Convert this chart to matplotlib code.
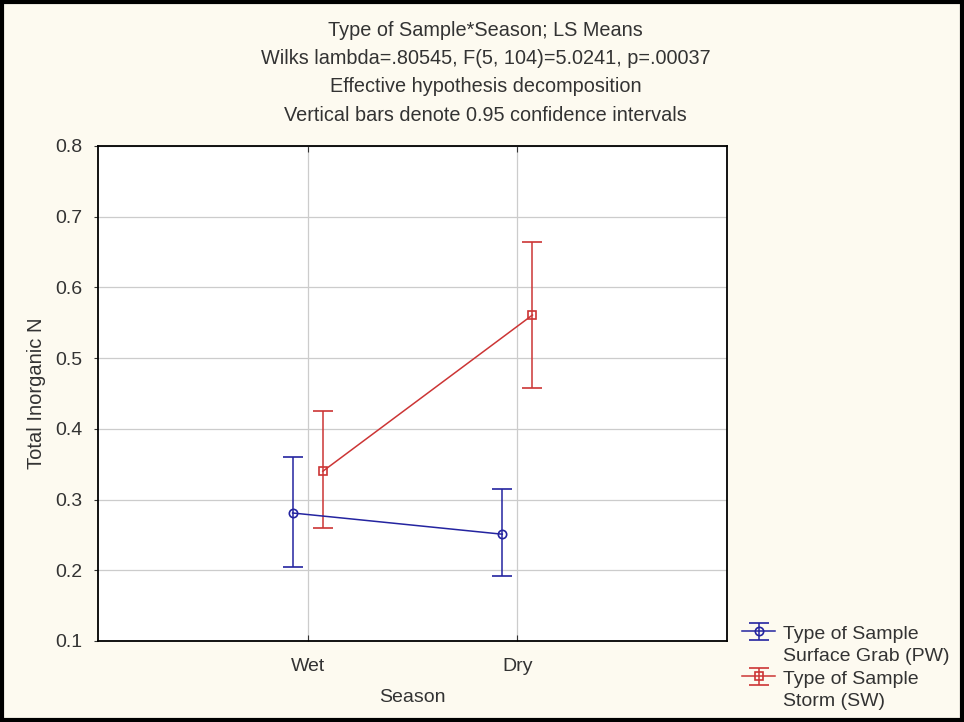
import numpy as np
import matplotlib.pyplot as plt
from matplotlib.patches import Rectangle
from matplotlib.legend_handler import HandlerErrorbar

plt.rcParams['font.family'] = ['Liberation Sans', 'DejaVu Sans']

seasons = ["Wet", "Dry"]
pw_mean = [0.281, 0.251]
pw_low = [0.205, 0.192]
pw_high = [0.360, 0.315]
sw_mean = [0.340, 0.561]
sw_low = [0.260, 0.458]
sw_high = [0.425, 0.664]
labels = ["Type of Sample\nSurface Grab (PW)", "Type of Sample\nStorm (SW)"]
title_lines = ["Type of Sample*Season; LS Means",
               "Wilks lambda=.80545, F(5, 104)=5.0241, p=.00037",
               "Effective hypothesis decomposition",
               "Vertical bars denote 0.95 confidence intervals"]

bg = '#fdfaf0'
blue = '#2424a0'
red = '#cc3535'
txt = '#333333'


# legend handle sits on the first text line, like the original
class TopErrorbar(HandlerErrorbar):
    def create_artists(self, legend, orig_handle, xdescent, ydescent,
                       width, height, fontsize, trans):
        return super().create_artists(legend, orig_handle, xdescent, ydescent - 20,
                                      width, height, fontsize, trans)


fig = plt.figure(figsize=(9.64, 7.22), dpi=100, facecolor=bg)
ax = fig.add_axes([0.1017, 0.1122, 0.6525, 0.6856])
ax.set_facecolor('white')

x = np.arange(len(seasons))
off = 0.072

series = [(pw_mean, pw_low, pw_high, blue, 'o', -off),
          (sw_mean, sw_low, sw_high, red, 's', off)]
handles = []
for mean, low, high, col, mk, dx in series:
    mean = np.array(mean)
    yerr = [mean - np.array(low), np.array(high) - mean]
    h = ax.errorbar(x + dx, mean, yerr=yerr, color=col, marker=mk, ms=6,
                    mfc='none', mec=col, mew=1.2, lw=1.1, elinewidth=1.1,
                    capsize=7.5, capthick=1.1)
    handles.append(h)

ax.set_xlim(-1, 2)
ax.set_ylim(0.1, 0.8)
ax.set_xticks(x)
ax.set_xticklabels(seasons)
yt = np.arange(0.1, 0.81, 0.1)
ax.set_yticks(yt)
ax.set_yticklabels([f"{v:.1f}" for v in yt])
ax.grid(True, color='#cccccc', lw=0.9)
ax.set_axisbelow(True)
ax.tick_params(axis='y', direction='out', length=3, labelsize=14, colors=txt, pad=8)
ax.tick_params(axis='x', direction='in', length=4, labelsize=14, colors=txt, pad=12, top=True)
for s in ax.spines.values():
    s.set_linewidth(1.3)
    s.set_color('black')
ax.set_xlabel("Season", fontsize=14, color=txt, labelpad=10)
ax.set_ylabel("Total Inorganic N", fontsize=14.5, color=txt, labelpad=7)

for i, t in enumerate(title_lines):
    fig.text(0.504, 1 - (30 + i * 28.5) / 722, t, ha='center', va='center',
             fontsize=14.3, color=txt)

leg = ax.legend(handles, labels, loc='upper left', bbox_to_anchor=(1.012, 0.046),
                frameon=False, fontsize=14, handlelength=1.7, handletextpad=0.4,
                labelspacing=0.3, borderaxespad=0,
                handler_map={type(handles[0]): TopErrorbar(yerr_size=0.45)})
for t in leg.get_texts():
    t.set_color(txt)
    t.set_linespacing(1.4)

fig.patches.append(Rectangle((0.002, 0.003), 0.996, 0.994, transform=fig.transFigure,
                             fill=False, ec='black', lw=3))

fig.savefig("out.png", dpi=100, facecolor=bg)
